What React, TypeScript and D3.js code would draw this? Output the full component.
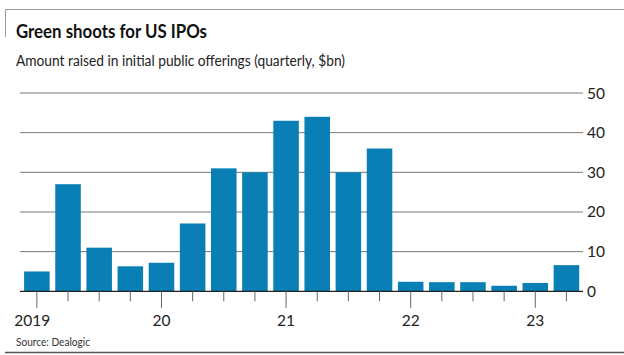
import React from "react";
import * as d3 from "d3";

const quarters = [
  "2019Q1", "2019Q2", "2019Q3", "2019Q4",
  "2020Q1", "2020Q2", "2020Q3", "2020Q4",
  "2021Q1", "2021Q2", "2021Q3", "2021Q4",
  "2022Q1", "2022Q2", "2022Q3", "2022Q4",
  "2023Q1", "2023Q2",
];
const values = [5, 27, 11, 6.3, 7.2, 17.1, 31, 30, 43, 44, 30, 36, 2.4, 2.3, 2.3, 1.4, 2.1, 6.6];
const yTicks = [0, 10, 20, 30, 40, 50];
const yearLabels: Record<string, string> = {
  "2019Q1": "2019",
  "2020Q1": "20",
  "2021Q1": "21",
  "2022Q1": "22",
  "2023Q1": "23",
};

const W = 624;
const H = 355;
const FONT = "Lato, 'Open Sans', sans-serif";

export default function App() {
  const x = d3
    .scaleBand<string>()
    .domain(quarters)
    .range([21.3, 582])
    .paddingInner(0.18)
    .paddingOuter(0.09);
  const y = d3.scaleLinear().domain([0, 50]).range([291.3, 93]);
  const gridLeft = 20;
  const gridRight = 583;

  return (
    <svg
      width={W}
      height={H}
      style={{ position: "absolute", left: 0, top: 0, background: "#fff" }}
      fontFamily={FONT}
    >
      <rect x={0} y={0} width={W} height={H} fill="#fff" />
      {/* frame pieces */}
      <line x1={5.5} x2={W} y1={9.5} y2={9.5} stroke="#9a9a9a" strokeWidth={1} />
      <line x1={5.5} x2={5.5} y1={9.5} y2={37} stroke="#9a9a9a" strokeWidth={1} />
      <line x1={5} x2={W} y1={352.5} y2={352.5} stroke="#555" strokeWidth={1.3} />

      <text
        x={16}
        y={37.5}
        fontSize={19}
        fontWeight={700}
        fill="#111"
        textLength={191}
        lengthAdjust="spacingAndGlyphs"
      >
        Green shoots for US IPOs
      </text>
      <text
        x={16}
        y={65.5}
        fontSize={15.5}
        fill="#222"
        textLength={329}
        lengthAdjust="spacingAndGlyphs"
      >
        Amount raised in initial public offerings (quarterly, $bn)
      </text>

      {/* gridlines */}
      {yTicks.map((t) => (
        <g key={t}>
          {t > 0 && (
            <line
              x1={gridLeft}
              x2={gridRight}
              y1={y(t)}
              y2={y(t)}
              stroke="#777"
              strokeWidth={1}
            />
          )}
          <text x={587} y={y(t) + 5.5} fontSize={15.5} fill="#222">
            {t}
          </text>
        </g>
      ))}

      {/* bars */}
      {quarters.map((q, i) => (
        <rect
          key={q}
          x={x(q)}
          y={y(values[i])}
          width={x.bandwidth()}
          height={y(0) - y(values[i])}
          fill="#0a7fb5"
        />
      ))}

      {/* baseline */}
      <line x1={gridLeft} x2={gridRight} y1={y(0)} y2={y(0)} stroke="#222" strokeWidth={1.3} />

      {/* ticks */}
      {quarters.map((q) => {
        const cx = (x(q) as number) + x.bandwidth() / 2;
        const isYear = yearLabels[q] !== undefined;
        return (
          <g key={"t" + q}>
            <line
              x1={cx}
              x2={cx}
              y1={y(0)}
              y2={y(0) + (isYear ? 16.5 : 10)}
              stroke="#666"
              strokeWidth={1}
            />
            {isYear && (
              <text
                x={cx - (q === "2019Q1" ? 4.7 : 0)}
                y={325.5}
                fontSize={15.5}
                textAnchor="middle"
                fill="#222"
              >
                {yearLabels[q]}
              </text>
            )}
          </g>
        );
      })}

      <text
        x={16}
        y={346}
        fontSize={12}
        fill="#333"
        textLength={74}
        lengthAdjust="spacingAndGlyphs"
      >
        Source: Dealogic
      </text>
    </svg>
  );
}
